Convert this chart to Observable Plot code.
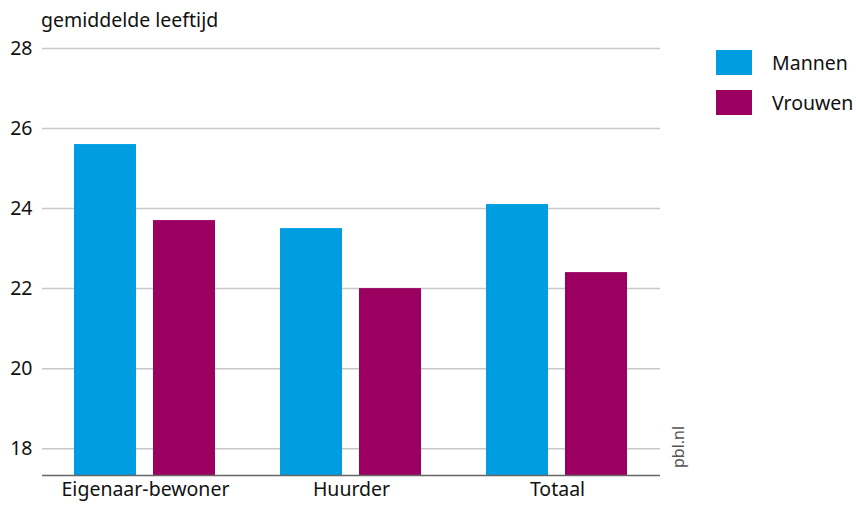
<!DOCTYPE html>
<html>
<head>
<meta charset="utf-8">
<script src="https://cdn.jsdelivr.net/npm/d3@7"></script>
<script src="https://cdn.jsdelivr.net/npm/@observablehq/plot@0.6"></script>
<style>
  body { margin: 0; background: #fff; }
  #wrap { position: relative; width: 856px; height: 506px; font-family: "Noto Sans", sans-serif; color: #111; }
  #title { position: absolute; left: 41px; top: 6px; font-size: 19.5px; }
  .leg { position: absolute; left: 716px; width: 36px; height: 25px; }
  .legt { position: absolute; left: 772px; font-size: 19.5px; line-height: 25px; }
  #src { position: absolute; left: 667px; top: 468px; transform-origin: 0 0; transform: rotate(-90deg); font-size: 16px; color: #555; white-space: nowrap; }
</style>
</head>
<body>
<div id="wrap"></div>
<script>
const categories = ["Eigenaar-bewoner", "Huurder", "Totaal"];
const series = ["Mannen", "Vrouwen"];
const mannen = [25.6, 23.5, 24.1];
const vrouwen = [23.7, 22.0, 22.4];
const yTicks = [18, 20, 22, 24, 26, 28];
const yMin = 17.33, yMax = 28;
const colors = ["#009de0", "#9b0061"];
const titleText = "gemiddelde leeftijd";
const sourceText = "pbl.nl";

const data = [];
categories.forEach((c, i) => {
  data.push({cat: c, sex: series[0], value: mannen[i]});
  data.push({cat: c, sex: series[1], value: vrouwen[i]});
});

const chart = Plot.plot({
  width: 856,
  height: 506,
  marginLeft: 41,
  marginRight: 195,
  marginTop: 48,
  marginBottom: 31,
  style: {fontFamily: "Noto Sans, sans-serif", fontSize: "19.5px", color: "#111", background: "#fff"},
  fx: {domain: categories, padding: 0, label: null, tickSize: 0, tickPadding: 7, axis: "bottom"},
  x: {domain: series, axis: null, paddingInner: 0.2125, paddingOuter: 0.4},
  y: {domain: [yMin, yMax], ticks: yTicks, label: null, tickSize: 0, tickPadding: 10},
  color: {domain: series, range: colors},
  marks: [
    Plot.gridY(yTicks, {stroke: "#c8c8c8", strokeOpacity: 1, strokeWidth: 1.5}),
    Plot.barY(data, {fx: "cat", x: "sex", y1: yMin, y2: "value", fill: "sex"}),
    Plot.ruleY([yMin], {stroke: "#666", strokeWidth: 1.5})
  ]
});

const wrap = document.getElementById("wrap");
wrap.appendChild(chart);

const t = document.createElement("div");
t.id = "title"; t.textContent = titleText; wrap.appendChild(t);

series.forEach((s, i) => {
  const sw = document.createElement("div");
  sw.className = "leg"; sw.style.top = (50 + i * 40) + "px"; sw.style.background = colors[i];
  wrap.appendChild(sw);
  const lt = document.createElement("div");
  lt.className = "legt"; lt.style.top = (50 + i * 40) + "px"; lt.textContent = s;
  wrap.appendChild(lt);
});

const src = document.createElement("div");
src.id = "src"; src.textContent = sourceText; wrap.appendChild(src);
</script>
</body>
</html>
